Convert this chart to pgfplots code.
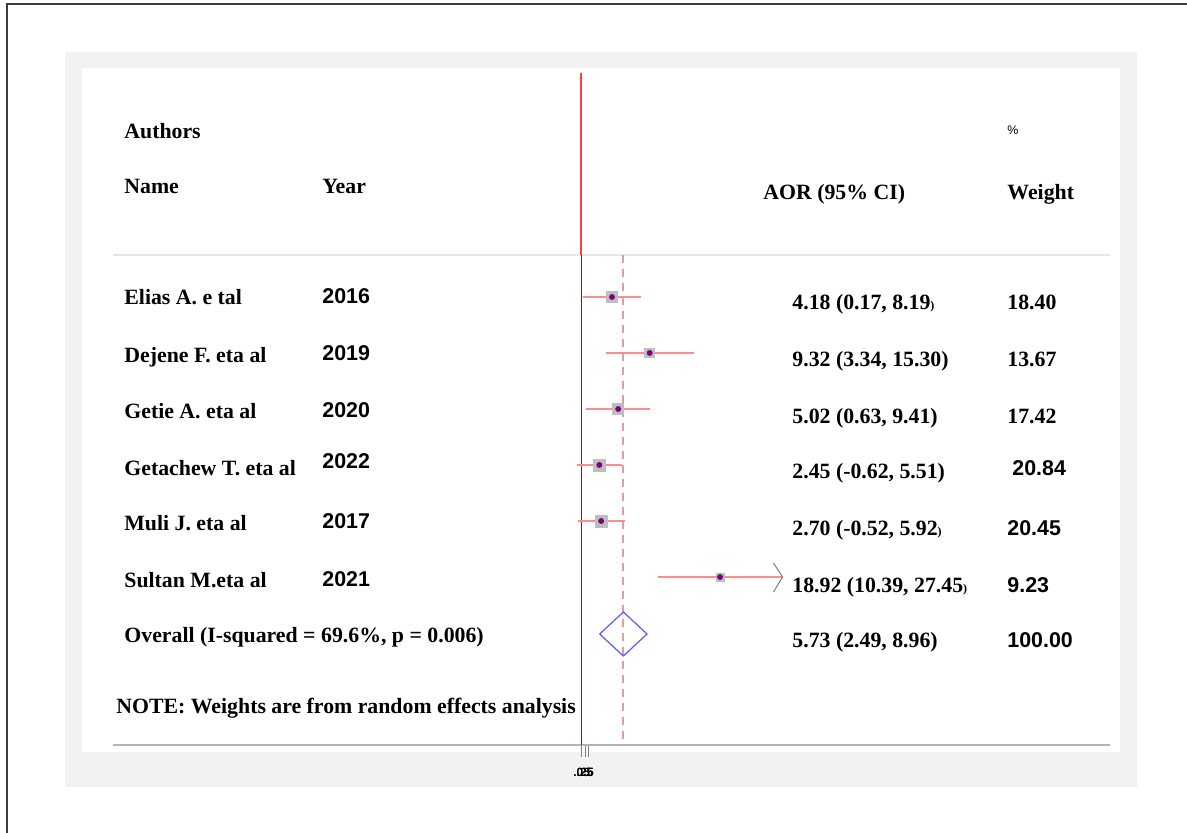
\documentclass[border=0pt]{standalone}
\usepackage{fontspec}
\setmainfont{Liberation Serif}
\newfontfamily\arial{Liberation Sans}
\usepackage{pgfplots}
\pgfplotsset{compat=1.18}
\usepackage{pgfplotstable}

\definecolor{panel}{HTML}{F2F2F2}
\definecolor{framec}{HTML}{3C3C3C}
\definecolor{cired}{HTML}{FF8C8C}
\definecolor{noeffectred}{HTML}{FF4040}
\definecolor{noeffectdark}{HTML}{7A2020}
\definecolor{pooledpink}{HTML}{E49CA4}
\definecolor{sqgray}{HTML}{BEBEBE}
\definecolor{dotpurple}{HTML}{800080}
\definecolor{diablue}{HTML}{5A5AFF}
\definecolor{sepgray}{HTML}{E6E6E6}
\definecolor{axgray}{HTML}{B4B4B4}

\newcommand\tb{\fontsize{10.9}{12}\selectfont\bfseries}
\newcommand\ab{\arial\fontsize{10.7}{12}\selectfont\bfseries}
\newcommand\smallparen[1]{{\fontsize{6}{7}\selectfont #1}}

% study estimates: AOR, lower, upper, weight, row position
\pgfplotstableread{
es     lo     hi     w      row
4.18   0.17   8.19   18.40  -297
9.32   3.34   15.30  13.67  -353
5.02   0.63   9.41   17.42  -409
2.45   -0.62  5.51   20.84  -465
2.70   -0.52  5.92   20.45  -521
18.92  10.39  27.45  9.23   -577
}\studies

\begin{document}
\begin{tikzpicture}
\begin{scope}[x=0.5pt,y=-0.5pt]
\useasboundingbox (0,0) rectangle (1187,833);
\fill[white] (0,0) rectangle (1187,833);
\draw[framec, line width=1pt] (7,833) -- (7,4) -- (1187,4);
\fill[panel] (65,52) rectangle (1137,787);
\fill[white] (82,68) rectangle (1120,752);
\end{scope}

\begin{axis}[
  at={(56.5pt,-372.5pt)}, anchor=south west,
  width=498.5pt, height=336.5pt, scale only axis,
  xmin=-63.90, xmax=72.12, ymin=-745, ymax=-72,
  axis x line*=bottom, axis y line=none,
  axis line style={axgray, line width=1pt},
  xtick={0.05,0.5,1}, xticklabels={.05,.25,.5},
  tick align=outside, major tick length=6pt,
  xtick style={gray, line width=0.4pt},
  ticklabel style={font=\arial\fontsize{6}{7}\selectfont\bfseries, yshift=-2pt},
  ytick=\empty, clip=false,
]
% header separator
\addplot[draw=sepgray, line width=0.6pt] coordinates {(-63.90,-255) (72.12,-255)};
% line of no effect
\addplot[draw=noeffectred, line width=1pt] coordinates {(0,-73) (0,-255)};
\addplot[draw=noeffectdark, line width=0.8pt] coordinates {(0,-255) (0,-745)};
% pooled estimate
\addplot[draw=pooledpink, line width=0.9pt, dash pattern=on 4pt off 3pt] coordinates {(5.73,-255) (5.73,-745)};
% confidence intervals
\addplot[draw=none, mark=none, error bars/.cd, x dir=both, x explicit,
  error mark=none, error bar style={cired, line width=0.6pt}]
  table[x=es, y=row, x error plus expr=\thisrow{hi}-\thisrow{es},
        x error minus expr=\thisrow{es}-\thisrow{lo}] {\studies};
% weight boxes
\addplot[scatter, only marks, mark=square*,
  scatter/use mapped color={draw=sqgray, fill=sqgray},
  visualization depends on={0.6575*sqrt(\thisrow{w}) \as \msize},
  scatter/@pre marker code/.append style={/tikz/mark size=\msize pt}]
  table[x=es, y=row] {\studies};
% point estimates
\addplot[only marks, mark=*, mark size=1.25pt, dotpurple] table[x=es, y=row] {\studies};
% truncated interval
\addplot[draw=gray, line width=0.5pt] coordinates {(26.2,-563) (27.45,-577) (26.2,-592)};
% overall diamond
\addplot[draw=diablue, line width=0.6pt] coordinates {(2.49,-634) (5.73,-612) (8.96,-634) (5.73,-656) (2.49,-634)};
\end{axis}

\begin{scope}[x=0.5pt,y=-0.5pt, every node/.style={anchor=base west, inner sep=0pt}]
\node at (124,139) {\tb Authors};
\node at (124,194) {\tb Name};
\node at (322,194) {\tb Year};
\node at (763,200) {\tb AOR (95\% CI)};
\node at (1007,135) {\arial\fontsize{6.2}{7}\selectfont \%};
\node at (1007,200) {\tb Weight};

\node at (124,305) {\tb Elias A. e tal};
\node at (124,363) {\tb Dejene F. eta al};
\node at (124,419) {\tb Getie A. eta al};
\node at (124,475) {\tb Getachew T. eta al};
\node at (124,530) {\tb Muli J. eta al};
\node at (124,587) {\tb Sultan M.eta al};
\node at (124,642) {\tb Overall (I-squared = 69.6\%, p = 0.006)};
\node at (116,713) {\tb NOTE: Weights are from random effects analysis};

\node at (322,304) {\ab 2016};
\node at (322,361) {\ab 2019};
\node at (322,418) {\ab 2020};
\node at (322,468) {\ab 2022};
\node at (322,528) {\ab 2017};
\node at (322,586) {\ab 2021};

\node at (792,310) {\tb 4.18 (0.17, 8.19\smallparen{)}};
\node at (792,367) {\tb 9.32 (3.34, 15.30)};
\node at (792,423) {\tb 5.02 (0.63, 9.41)};
\node at (792,479) {\tb 2.45 (-0.62, 5.51)};
\node at (792,535) {\tb 2.70 (-0.52, 5.92\smallparen{)}};
\node at (792,592) {\tb 18.92 (10.39, 27.45\smallparen{)}};
\node at (792,647) {\tb 5.73 (2.49, 8.96)};

\node at (1007,310) {\tb 18.40};
\node at (1007,367) {\tb 13.67};
\node at (1007,423) {\tb 17.42};
\node at (1012,475) {\ab 20.84};
\node at (1007,535) {\ab 20.45};
\node at (1007,592) {\ab 9.23};
\node at (1007,647) {\ab 100.00};
\end{scope}
\end{tikzpicture}
\end{document}
